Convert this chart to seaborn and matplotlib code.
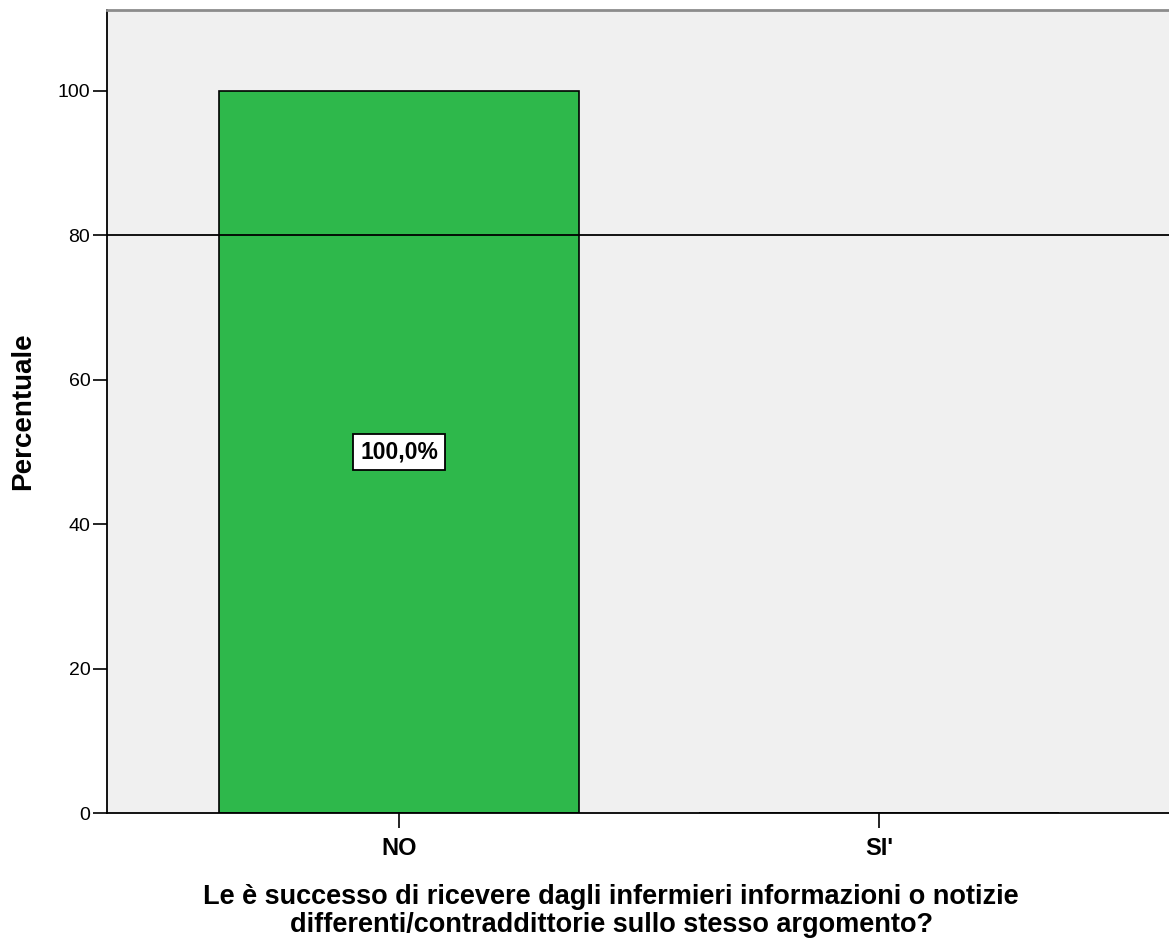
import matplotlib
matplotlib.use('Agg')
import matplotlib.pyplot as plt
import seaborn as sns
import pandas as pd

# Dati
categorie = ['NO', "SI'"]
percentuali = [100.0, 0.0]
etichette = ['100,0%', '']
linea_riferimento = 80

df = pd.DataFrame({'risposta': categorie, 'percentuale': percentuali})

sns.set_style('white')
plt.rcParams['font.family'] = ['Liberation Sans', 'DejaVu Sans']
plt.rcParams['text.color'] = 'black'
plt.rcParams['axes.labelcolor'] = 'black'
plt.rcParams['xtick.color'] = 'black'
plt.rcParams['ytick.color'] = 'black'

fig = plt.figure(figsize=(11.69, 9.41), dpi=100)
ax = fig.add_axes([107 / 1169, 1 - 813 / 941, 1 - 107 / 1169 + 0.002, (813 - 10) / 941])
ax.set_facecolor('#F0F0F0')

sns.barplot(data=df, x='risposta', y='percentuale', color='#2EB84B', width=0.75,
            edgecolor='black', linewidth=1.2, saturation=1, ax=ax)

ax.set_xlim(-0.608, 1.608)
ax.set_ylim(0, 111.2)
ax.set_yticks([0, 20, 40, 60, 80, 100])
ax.axhline(linea_riferimento, color='black', lw=1.3, zorder=3)

# etichette dentro le barre
for i, (v, t) in enumerate(zip(percentuali, etichette)):
    if t:
        ax.text(i, v / 2, t, ha='center', va='center', fontsize=16.5, fontweight='bold',
                bbox=dict(boxstyle='square,pad=0.3', fc='white', ec='black', lw=1.3), zorder=4)

for s in ['left', 'bottom']:
    ax.spines[s].set_color('black')
    ax.spines[s].set_linewidth(1.3)
ax.spines['top'].set_color('#8C8C8C')
ax.spines['top'].set_linewidth(2)
ax.spines['right'].set_visible(False)

ax.tick_params(axis='y', length=10, width=1.2, direction='out', left=True,
               labelsize=14, pad=2)
ax.tick_params(axis='x', length=11, width=1.2, direction='out', bottom=True,
               labelsize=17, pad=6)
for lab in ax.get_xticklabels():
    lab.set_fontweight('bold')

ax.set_ylabel('Percentuale', fontsize=20, fontweight='bold')
ax.yaxis.set_label_coords((36 - 107) / 1062, 0.5)
ax.set_xlabel('Le è successo di ricevere dagli infermieri informazioni o notizie\n'
              'differenti/contraddittorie sullo stesso argomento?',
              fontsize=19.5, fontweight='bold', linespacing=1.12)
ax.xaxis.set_label_coords((610 - 107) / 1062, (813 - 884) / 803)
ax.xaxis.label.set_va('top')

fig.savefig('out.png', dpi=100)
